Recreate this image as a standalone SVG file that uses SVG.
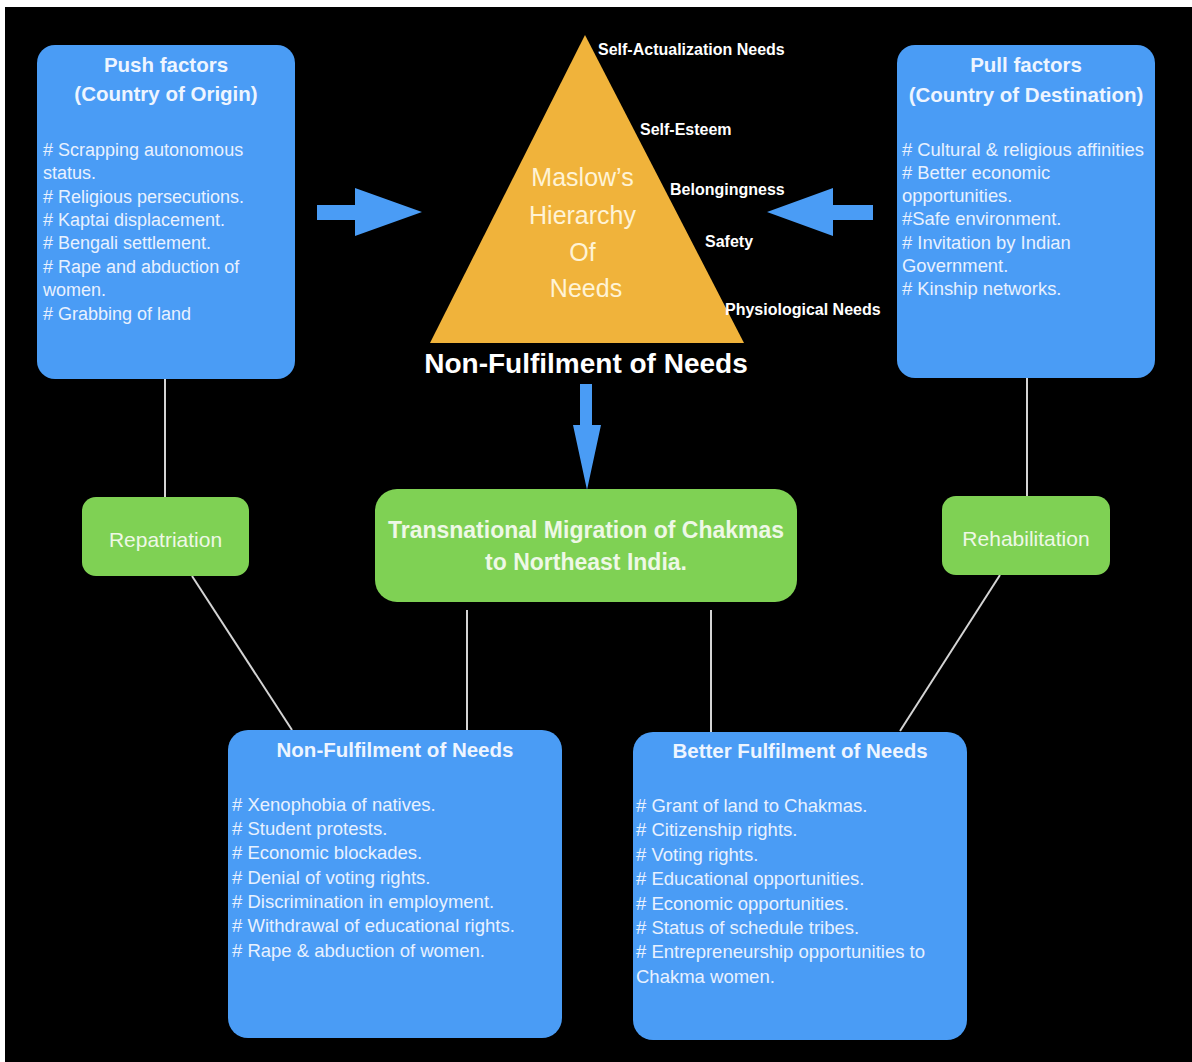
<svg xmlns="http://www.w3.org/2000/svg" width="1192" height="1062" viewBox="0 0 1192 1062">
  <style>
    .blue { fill: #4a9cf5; }
    .green { fill: #7fd154; }
    .ttl { font-family: "Liberation Sans", Arial, sans-serif; font-weight: bold; fill: #eef5ff; text-anchor: middle; }
    .item { font-family: "Liberation Sans", Arial, sans-serif; fill: #e8f1ff; }
    .gtxt { font-family: "Liberation Sans", Arial, sans-serif; fill: #eef8e6; text-anchor: middle; }
    .lvl { font-family: "Liberation Sans", Arial, sans-serif; font-weight: bold; font-size: 16px; fill: #ffffff; }
    .link { stroke: #d4d4d4; stroke-width: 2; fill: none; }
    .arrow { fill: #4a9cf5; }
  </style>

  <!-- page -->
  <rect x="0" y="0" width="1192" height="1062" fill="#ffffff"/>
  <rect x="5" y="7" width="1187" height="1055" fill="#000000"/>

  <!-- connectors -->
  <g id="connectors">
    <line class="link" x1="165" y1="379" x2="165" y2="497"/>
    <line class="link" x1="192" y1="576" x2="292" y2="730"/>
    <line class="link" x1="1027" y1="378" x2="1027" y2="496"/>
    <line class="link" x1="1000" y1="575" x2="900" y2="731"/>
    <line class="link" x1="467" y1="610" x2="467" y2="730"/>
    <line class="link" x1="711" y1="610" x2="711" y2="732"/>
    <!-- push -> hierarchy -->
    <polygon class="arrow" points="317,205 355,205 355,188 422,212 355,236 355,220 317,220"/>
    <!-- pull -> hierarchy -->
    <polygon class="arrow" points="873,205 833,205 833,188 767,212 833,236 833,220 873,220"/>
    <!-- hierarchy -> migration -->
    <polygon class="arrow" points="580,384 592,384 592,425 601,425 587,490 573,425 580,425"/>
  </g>

  <!-- push factors -->
  <g id="push">
    <rect class="blue" x="37" y="45" width="258" height="334" rx="18"/>
    <text class="ttl" font-size="20.5" x="166" y="72">Push factors</text>
    <text class="ttl" font-size="20.5" x="166" y="101">(Country of Origin)</text>
    <text class="item" font-size="18" x="43">
      <tspan x="43" y="156"># Scrapping autonomous</tspan>
      <tspan x="43" y="179">status.</tspan>
      <tspan x="43" y="203"># Religious persecutions.</tspan>
      <tspan x="43" y="226"># Kaptai displacement.</tspan>
      <tspan x="43" y="249"># Bengali settlement.</tspan>
      <tspan x="43" y="273"># Rape and abduction of</tspan>
      <tspan x="43" y="296">women.</tspan>
      <tspan x="43" y="320"># Grabbing of land</tspan>
    </text>
  </g>

  <!-- pull factors -->
  <g id="pull">
    <rect class="blue" x="897" y="45" width="258" height="333" rx="18"/>
    <text class="ttl" font-size="20.5" x="1026" y="72">Pull factors</text>
    <text class="ttl" font-size="20.5" x="1026" y="102">(Country of Destination)</text>
    <text class="item" font-size="18.4" x="902">
      <tspan x="902" y="156"># Cultural &amp; religious affinities</tspan>
      <tspan x="902" y="179"># Better economic</tspan>
      <tspan x="902" y="202">opportunities.</tspan>
      <tspan x="902" y="225">#Safe environment.</tspan>
      <tspan x="902" y="249"># Invitation by Indian</tspan>
      <tspan x="902" y="272">Government.</tspan>
      <tspan x="902" y="295"># Kinship networks.</tspan>
    </text>
  </g>

  <!-- hierarchy of needs -->
  <g id="maslow">
    <polygon points="585,35 430,343 744,343" fill="#f0b33b"/>
    <text class="gtxt" font-size="25" fill="#fff6dc" style="fill:#fff3d6">
      <tspan x="586" y="186">Maslow’s</tspan>
      <tspan x="586" y="224">Hierarchy</tspan>
      <tspan x="586" y="261">Of</tspan>
      <tspan x="586" y="297">Needs</tspan>
    </text>
    <text class="lvl" x="598" y="55">Self-Actualization Needs</text>
    <text class="lvl" x="640" y="135">Self-Esteem</text>
    <text class="lvl" x="670" y="195">Belongingness</text>
    <text class="lvl" x="705" y="247">Safety</text>
    <text class="lvl" x="725" y="315">Physiological Needs</text>
    <text class="ttl" font-size="28" x="586" y="373" style="fill:#ffffff">Non-Fulfilment of Needs</text>
  </g>

  <!-- repatriation -->
  <g id="repatriation">
    <rect class="green" x="82" y="497" width="167" height="79" rx="14"/>
    <text class="gtxt" font-size="21" x="165.5" y="547">Repatriation</text>
  </g>

  <!-- migration -->
  <g id="migration">
    <rect class="green" x="375" y="489" width="422" height="113" rx="22"/>
    <text class="gtxt" font-size="23" font-weight="bold" x="586" y="538">Transnational Migration of Chakmas</text>
    <text class="gtxt" font-size="23" font-weight="bold" x="586" y="570">to Northeast India.</text>
  </g>

  <!-- rehabilitation -->
  <g id="rehabilitation">
    <rect class="green" x="942" y="496" width="168" height="79" rx="14"/>
    <text class="gtxt" font-size="21" x="1026" y="546">Rehabilitation</text>
  </g>

  <!-- non-fulfilment -->
  <g id="non-fulfilment">
    <rect class="blue" x="228" y="730" width="334" height="308" rx="20"/>
    <text class="ttl" font-size="20.5" x="395" y="757">Non-Fulfilment of Needs</text>
    <text class="item" font-size="18.5" x="232">
      <tspan x="232" y="811"># Xenophobia of natives.</tspan>
      <tspan x="232" y="835"># Student protests.</tspan>
      <tspan x="232" y="859"># Economic blockades.</tspan>
      <tspan x="232" y="884"># Denial of voting rights.</tspan>
      <tspan x="232" y="908"># Discrimination in employment.</tspan>
      <tspan x="232" y="932"># Withdrawal of educational rights.</tspan>
      <tspan x="232" y="957"># Rape &amp; abduction of women.</tspan>
    </text>
  </g>

  <!-- better fulfilment -->
  <g id="better-fulfilment">
    <rect class="blue" x="633" y="732" width="334" height="308" rx="20"/>
    <text class="ttl" font-size="20.5" x="800" y="758">Better Fulfilment of Needs</text>
    <text class="item" font-size="18.5" x="636">
      <tspan x="636" y="812"># Grant of land to Chakmas.</tspan>
      <tspan x="636" y="836"># Citizenship rights.</tspan>
      <tspan x="636" y="861"># Voting rights.</tspan>
      <tspan x="636" y="885"># Educational opportunities.</tspan>
      <tspan x="636" y="910"># Economic opportunities.</tspan>
      <tspan x="636" y="934"># Status of schedule tribes.</tspan>
      <tspan x="636" y="958"># Entrepreneurship opportunities to</tspan>
      <tspan x="636" y="983">Chakma women.</tspan>
    </text>
  </g>
</svg>
